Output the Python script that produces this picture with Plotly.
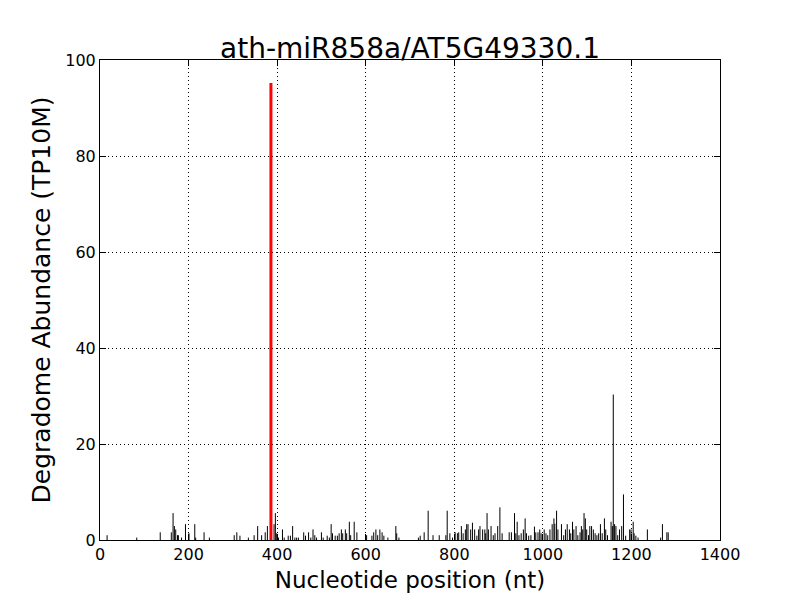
import plotly.graph_objects as go

positions = [16, 83, 136, 161, 165, 168, 171, 175, 177, 184, 193, 201, 214, 216, 235, 247,
             303, 309, 316, 335, 348, 356, 365, 373, 378, 393, 396, 399, 403, 412, 416, 425,
             430, 435, 440, 444, 448, 460, 464, 471, 476, 481, 485, 489, 500, 504, 513, 518,
             522, 525, 531, 536, 540, 545, 548, 554, 557, 563, 566, 574, 580, 602, 614, 618,
             623, 627, 632, 637, 641, 650, 668, 670, 675, 719, 723, 732, 741, 752, 766, 781,
             784, 790, 796, 802, 807, 810, 816, 820, 825, 828, 831, 837, 841, 846, 851, 855,
             858, 864, 869, 871, 874, 877, 883, 888, 892, 898, 903, 908, 924, 929, 936, 939,
             942, 946, 951, 956, 960, 963, 968, 973, 981, 984, 989, 993, 996, 1003, 1007, 1011,
             1016, 1021, 1025, 1027, 1031, 1034, 1042, 1047, 1051, 1055, 1060, 1063, 1067, 1070,
             1075, 1079, 1084, 1087, 1090, 1093, 1096, 1099, 1103, 1106, 1110, 1114, 1118, 1122,
             1126, 1130, 1134, 1139, 1142, 1146, 1154, 1157, 1159, 1162, 1165, 1169, 1173, 1178,
             1182, 1187, 1196, 1199, 1204, 1206, 1210, 1215, 1236, 1266, 1270, 1280, 1283]
abundance = [1.0, 0.5, 1.6, 1.6, 5.6, 2.9, 2.2, 1.0, 1.0, 0.5, 3.3, 1.4, 3.3, 0.5, 1.6, 0.5,
             1.0, 1.6, 0.9, 0.5, 1.0, 2.9, 1.0, 1.6, 2.9, 3.3, 5.6, 1.4, 0.5, 2.2, 0.5, 0.9,
             0.9, 2.9, 0.5, 0.5, 0.5, 1.6, 0.9, 1.6, 0.5, 2.2, 1.0, 0.5, 1.6, 0.5, 0.9, 0.5,
             3.3, 1.4, 0.9, 0.9, 1.4, 2.2, 1.4, 2.2, 1.4, 3.8, 1.0, 3.8, 1.6, 1.0, 0.9, 1.6,
             2.2, 1.0, 2.2, 1.6, 0.9, 0.5, 2.9, 1.4, 0.5, 0.5, 0.9, 1.6, 6.1, 1.0, 1.0, 1.0,
             6.1, 1.4, 0.5, 1.6, 1.4, 1.6, 2.9, 1.4, 2.2, 3.3, 3.3, 2.2, 3.6, 2.2, 0.9, 2.2,
             2.9, 2.2, 2.2, 1.4, 5.6, 2.2, 2.9, 1.0, 1.4, 2.9, 6.8, 1.4, 1.6, 1.6, 5.6, 1.4,
             3.8, 1.0, 1.4, 2.2, 4.5, 1.4, 0.9, 1.0, 2.8, 1.6, 1.6, 2.2, 1.4, 2.2, 1.4, 1.0,
             2.2, 3.3, 4.5, 3.4, 6.1, 2.2, 3.3, 1.0, 2.2, 3.3, 2.2, 1.4, 3.8, 2.2,
             2.9, 1.0, 1.6, 2.9, 2.2, 5.6, 4.5, 2.2, 1.0, 2.9, 2.9, 2.2, 1.4, 1.0,
             1.4, 3.3, 1.4, 4.5, 2.2, 1.0, 3.8, 2.9, 30.3, 3.3, 2.9, 1.0, 2.2, 2.9,
             9.5, 0.9, 2.2, 2.2, 3.8, 1.4, 0.9, 0.5, 2.2, 0.5, 3.3, 1.6, 1.6]
target_position = [386]
target_abundance = [95.2]

title = "ath-miR858a/AT5G49330.1"
x_title = "Nucleotide position (nt)"
y_title = "Degradome Abundance (TP10M)"


def segments(xs, ys):
    sx, sy = [], []
    for x, y in zip(xs, ys):
        sx += [x, x, None]
        sy += [0, y, None]
    return sx, sy


bx, by = segments(positions, abundance)
rx, ry = segments(target_position, target_abundance)

fig = go.Figure()
fig.add_trace(go.Scatter(x=bx, y=by, mode="lines", line=dict(color="black", width=1),
                         hoverinfo="skip", showlegend=False))
fig.add_trace(go.Scatter(x=rx, y=ry, mode="lines", line=dict(color="red", width=3),
                         hoverinfo="skip", showlegend=False))

axis_common = dict(
    showline=True, linecolor="black", linewidth=1, mirror="ticks",
    ticks="inside", ticklen=6, tickcolor="black",
    showgrid=True, gridcolor="black", griddash="1px,3px", gridwidth=1,
    zeroline=False,
    tickfont=dict(family="DejaVu Sans", size=16, color="black"),
)

fig.update_layout(
    width=800, height=600,
    paper_bgcolor="white", plot_bgcolor="white",
    margin=dict(l=100, r=80, t=60, b=60, autoexpand=False),
    title=dict(text=title, x=0.5, xref="paper", xanchor="center",
               y=1.0, yref="paper", yanchor="bottom", pad=dict(b=2),
               font=dict(family="DejaVu Sans", size=28, color="black")),
    xaxis=dict(range=[0, 1400], dtick=200,
               title=dict(text=x_title, font=dict(family="DejaVu Sans", size=23, color="black"),
                          standoff=8),
               **axis_common),
    yaxis=dict(range=[0, 100], dtick=20,
               title=dict(text=y_title, font=dict(family="DejaVu Sans", size=25, color="black"),
                          standoff=7),
               **axis_common),
    font=dict(family="DejaVu Sans", color="black"),
)

fig.write_html("out.html", config={"displayModeBar": False},
               post_script="document.body.style.margin='0';document.body.style.overflow='hidden';")
